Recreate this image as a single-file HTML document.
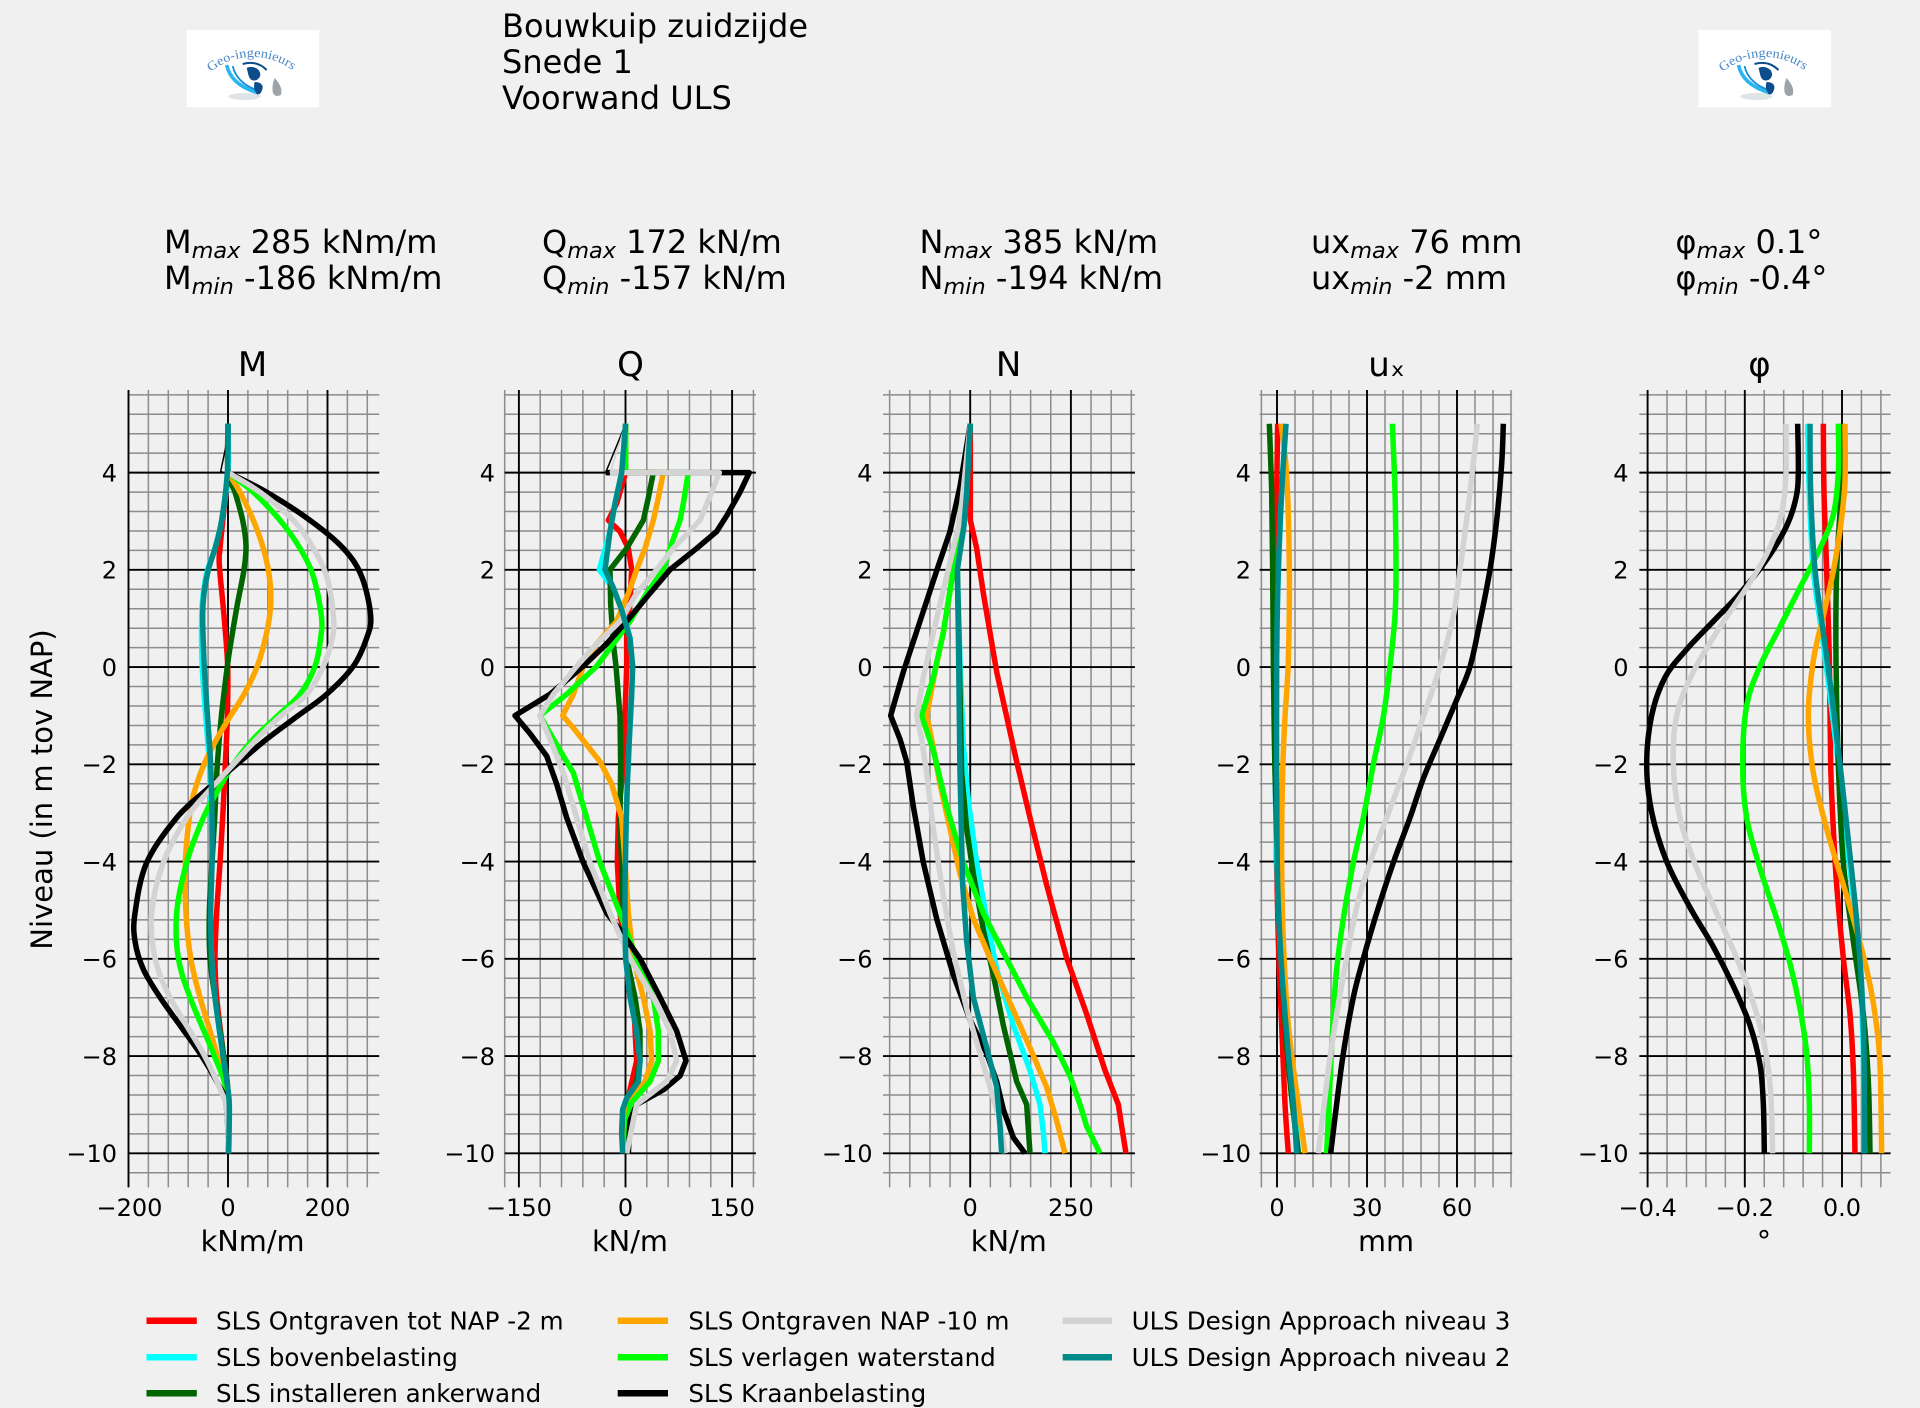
<!DOCTYPE html>
<html><head><meta charset="utf-8">
<style>
html,body{margin:0;padding:0;background:#f0f0f0;}
svg{display:block;}
text{font-family:"DejaVu Sans","Liberation Sans",sans-serif;fill:#000;}
.g path,.g line{vector-effect:non-scaling-stroke;}
.c polyline,.c path{vector-effect:non-scaling-stroke;fill:none;stroke-width:5.5;stroke-linejoin:round;}
.c polyline.t{stroke-width:1.5;}
.mn{stroke:#8c8c8c;stroke-width:1.5;fill:none;}
.mj{stroke:#000;stroke-width:1.9;fill:none;}
.tk{font-size:24px;}
.yt{font-size:24px;text-anchor:end;}
.xl{font-size:28.8px;text-anchor:middle;}
.st{font-size:34px;text-anchor:middle;}
.hd{font-size:32px;}
.lg{font-size:24.6px;}
</style></head>
<body>
<svg width="1920" height="1408" viewBox="0 0 1920 1408" xmlns="http://www.w3.org/2000/svg">
<rect width="1920" height="1408" fill="#f0f0f0"/>

<defs>
<g id="logo">
 <rect width="132.6" height="77.3" fill="#ffffff"/>
 <path id="arcL" d="M 24 42 A 66 66 0 0 1 108 42" fill="none"/>
 <text font-size="13" style="font-family:'Liberation Serif',serif;fill:#4a86c5"><textPath href="#arcL" textLength="88" lengthAdjust="spacingAndGlyphs">Geo-ingenieurs</textPath></text>
 <ellipse cx="58" cy="66.5" rx="16" ry="3.6" fill="#dfe4e6"/>
 <path d="M 40 35 Q 44 55 72 63" stroke="#29b6f0" stroke-width="3.6" fill="none"/>
 <path d="M 46 36 Q 50 53 70 60" stroke="#1a8fd8" stroke-width="1.8" fill="none"/>
 <path d="M 56 34 Q 70 30 80 40" stroke="#0d4d8c" stroke-width="2" fill="none"/>
 <path d="M 60 38 Q 66 35 72 40 Q 76 46 70 50 Q 64 52 62 46 Z" fill="#0d4d8c"/>
 <path d="M 68 52 Q 76 52 76 58 Q 74 66 70 64 Q 66 58 68 52 Z" fill="#0d4d8c"/>
 <path d="M 88 48 Q 97 58 94 65 Q 88 68 86 62 Q 85 55 88 48 Z" fill="#9ea3a8"/>
</g>
</defs>
<use href="#logo" x="186.7" y="30"/>
<use href="#logo" x="1698.5" y="30"/>

<text class="hd" x="502" y="37">Bouwkuip zuidzijde</text>
<text class="hd" x="502" y="73">Snede 1</text>
<text class="hd" x="502" y="109">Voorwand ULS</text>

<g class="hd">
<text class="hd" x="164" y="253">M<tspan font-style="italic" font-size="22.4" dy="5">max</tspan><tspan dy="-5"> 285 kNm/m</tspan></text>
<text class="hd" x="164" y="289">M<tspan font-style="italic" font-size="22.4" dy="5">min</tspan><tspan dy="-5"> -186 kNm/m</tspan></text>
<text class="hd" x="542" y="253">Q<tspan font-style="italic" font-size="22.4" dy="5">max</tspan><tspan dy="-5"> 172 kN/m</tspan></text>
<text class="hd" x="542" y="289">Q<tspan font-style="italic" font-size="22.4" dy="5">min</tspan><tspan dy="-5"> -157 kN/m</tspan></text>
<text class="hd" x="919.5" y="253">N<tspan font-style="italic" font-size="22.4" dy="5">max</tspan><tspan dy="-5"> 385 kN/m</tspan></text>
<text class="hd" x="919.5" y="289">N<tspan font-style="italic" font-size="22.4" dy="5">min</tspan><tspan dy="-5"> -194 kN/m</tspan></text>
<text class="hd" x="1311" y="253">ux<tspan font-style="italic" font-size="22.4" dy="5">max</tspan><tspan dy="-5"> 76 mm</tspan></text>
<text class="hd" x="1311" y="289">ux<tspan font-style="italic" font-size="22.4" dy="5">min</tspan><tspan dy="-5"> -2 mm</tspan></text>
<text class="hd" x="1675.4" y="253">φ<tspan font-style="italic" font-size="22.4" dy="5">max</tspan><tspan dy="-5"> 0.1°</tspan></text>
<text class="hd" x="1675.4" y="289">φ<tspan font-style="italic" font-size="22.4" dy="5">min</tspan><tspan dy="-5"> -0.4°</tspan></text>
</g>

<text class="st" x="252.5" y="376">M</text>
<text class="st" x="630.5" y="376">Q</text>
<text class="st" x="1008.6" y="376">N</text>
<text class="st" x="1386.6" y="376">uₓ</text>
<text class="st" x="1759.5" y="376">φ</text>

<text transform="translate(52,789.5) rotate(-90)" font-size="29" text-anchor="middle">Niveau (in m tov NAP)</text>

<!-- M grid -->
<g class="g" transform="matrix(0.4975,0,0,-48.62,228,667.1)">
 <path class="mn" d="M-202 -10.4H304M-202 -9.6H304M-202 -9.2H304M-202 -8.8H304M-202 -8.4H304M-202 -7.6H304M-202 -7.2H304M-202 -6.8H304M-202 -6.4H304M-202 -5.6H304M-202 -5.2H304M-202 -4.8H304M-202 -4.4H304M-202 -3.6H304M-202 -3.2H304M-202 -2.8H304M-202 -2.4H304M-202 -1.6H304M-202 -1.2H304M-202 -0.8H304M-202 -0.4H304M-202 0.4H304M-202 0.8H304M-202 1.2H304M-202 1.6H304M-202 2.4H304M-202 2.8H304M-202 3.2H304M-202 3.6H304M-202 4.4H304M-202 4.8H304M-202 5.2H304M-202 5.6H304"/>
 <path class="mn" d="M-160 -10.7V5.7M-120 -10.7V5.7M-80 -10.7V5.7M-40 -10.7V5.7M40 -10.7V5.7M80 -10.7V5.7M120 -10.7V5.7M160 -10.7V5.7M240 -10.7V5.7M280 -10.7V5.7"/>
 <path class="mj" d="M-202 -10H304M-202 -8H304M-202 -6H304M-202 -4H304M-202 -2H304M-202 0H304M-202 2H304M-202 4H304M-200 -10.7V5.7M0 -10.7V5.7M200 -10.7V5.7"/>
</g>
<!-- Q grid -->
<g class="g" transform="matrix(0.7107,0,0,-48.62,625.5,667.1)">
 <path class="mn" d="M-170 -10.4H183.5M-170 -9.6H183.5M-170 -9.2H183.5M-170 -8.8H183.5M-170 -8.4H183.5M-170 -7.6H183.5M-170 -7.2H183.5M-170 -6.8H183.5M-170 -6.4H183.5M-170 -5.6H183.5M-170 -5.2H183.5M-170 -4.8H183.5M-170 -4.4H183.5M-170 -3.6H183.5M-170 -3.2H183.5M-170 -2.8H183.5M-170 -2.4H183.5M-170 -1.6H183.5M-170 -1.2H183.5M-170 -0.8H183.5M-170 -0.4H183.5M-170 0.4H183.5M-170 0.8H183.5M-170 1.2H183.5M-170 1.6H183.5M-170 2.4H183.5M-170 2.8H183.5M-170 3.2H183.5M-170 3.6H183.5M-170 4.4H183.5M-170 4.8H183.5M-170 5.2H183.5M-170 5.6H183.5"/>
 <path class="mn" d="M-170 -10.7V5.7M-120 -10.7V5.7M-90 -10.7V5.7M-60 -10.7V5.7M-30 -10.7V5.7M30 -10.7V5.7M60 -10.7V5.7M90 -10.7V5.7M120 -10.7V5.7M180 -10.7V5.7"/>
 <path class="mj" d="M-170 -10H183.5M-170 -8H183.5M-170 -6H183.5M-170 -4H183.5M-170 -2H183.5M-170 0H183.5M-170 2H183.5M-170 4H183.5M-150 -10.7V5.7M0 -10.7V5.7M150 -10.7V5.7"/>
</g>
<!-- N grid -->
<g class="g" transform="matrix(0.4028,0,0,-48.62,970.2,667.1)">
 <path class="mn" d="M-216.5 -10.4H409M-216.5 -9.6H409M-216.5 -9.2H409M-216.5 -8.8H409M-216.5 -8.4H409M-216.5 -7.6H409M-216.5 -7.2H409M-216.5 -6.8H409M-216.5 -6.4H409M-216.5 -5.6H409M-216.5 -5.2H409M-216.5 -4.8H409M-216.5 -4.4H409M-216.5 -3.6H409M-216.5 -3.2H409M-216.5 -2.8H409M-216.5 -2.4H409M-216.5 -1.6H409M-216.5 -1.2H409M-216.5 -0.8H409M-216.5 -0.4H409M-216.5 0.4H409M-216.5 0.8H409M-216.5 1.2H409M-216.5 1.6H409M-216.5 2.4H409M-216.5 2.8H409M-216.5 3.2H409M-216.5 3.6H409M-216.5 4.4H409M-216.5 4.8H409M-216.5 5.2H409M-216.5 5.6H409"/>
 <path class="mn" d="M-200 -10.7V5.7M-150 -10.7V5.7M-100 -10.7V5.7M-50 -10.7V5.7M50 -10.7V5.7M100 -10.7V5.7M150 -10.7V5.7M200 -10.7V5.7M300 -10.7V5.7M350 -10.7V5.7M400 -10.7V5.7"/>
 <path class="mj" d="M-216.5 -10H409M-216.5 -8H409M-216.5 -6H409M-216.5 -4H409M-216.5 -2H409M-216.5 0H409M-216.5 2H409M-216.5 4H409M0 -10.7V5.7M250 -10.7V5.7"/>
</g>
<!-- ux grid -->
<g class="g" transform="matrix(3,0,0,-48.62,1277,667.1)">
 <path class="mn" d="M-5.8 -10.4H78.4M-5.8 -9.6H78.4M-5.8 -9.2H78.4M-5.8 -8.8H78.4M-5.8 -8.4H78.4M-5.8 -7.6H78.4M-5.8 -7.2H78.4M-5.8 -6.8H78.4M-5.8 -6.4H78.4M-5.8 -5.6H78.4M-5.8 -5.2H78.4M-5.8 -4.8H78.4M-5.8 -4.4H78.4M-5.8 -3.6H78.4M-5.8 -3.2H78.4M-5.8 -2.8H78.4M-5.8 -2.4H78.4M-5.8 -1.6H78.4M-5.8 -1.2H78.4M-5.8 -0.8H78.4M-5.8 -0.4H78.4M-5.8 0.4H78.4M-5.8 0.8H78.4M-5.8 1.2H78.4M-5.8 1.6H78.4M-5.8 2.4H78.4M-5.8 2.8H78.4M-5.8 3.2H78.4M-5.8 3.6H78.4M-5.8 4.4H78.4M-5.8 4.8H78.4M-5.8 5.2H78.4M-5.8 5.6H78.4"/>
 <path class="mn" d="M-5.2 -10.7V5.7M6 -10.7V5.7M12 -10.7V5.7M18 -10.7V5.7M24 -10.7V5.7M36 -10.7V5.7M42 -10.7V5.7M48 -10.7V5.7M54 -10.7V5.7M66 -10.7V5.7M72 -10.7V5.7M78 -10.7V5.7"/>
 <path class="mj" d="M-5.8 -10H78.4M-5.8 -8H78.4M-5.8 -6H78.4M-5.8 -4H78.4M-5.8 -2H78.4M-5.8 0H78.4M-5.8 2H78.4M-5.8 4H78.4M0 -10.7V5.7M30 -10.7V5.7M60 -10.7V5.7"/>
</g>
<!-- phi grid -->
<g class="g" transform="matrix(486,0,0,-48.62,1842,667.1)">
 <path class="mn" d="M-0.417 -10.4H0.1M-0.417 -9.6H0.1M-0.417 -9.2H0.1M-0.417 -8.8H0.1M-0.417 -8.4H0.1M-0.417 -7.6H0.1M-0.417 -7.2H0.1M-0.417 -6.8H0.1M-0.417 -6.4H0.1M-0.417 -5.6H0.1M-0.417 -5.2H0.1M-0.417 -4.8H0.1M-0.417 -4.4H0.1M-0.417 -3.6H0.1M-0.417 -3.2H0.1M-0.417 -2.8H0.1M-0.417 -2.4H0.1M-0.417 -1.6H0.1M-0.417 -1.2H0.1M-0.417 -0.8H0.1M-0.417 -0.4H0.1M-0.417 0.4H0.1M-0.417 0.8H0.1M-0.417 1.2H0.1M-0.417 1.6H0.1M-0.417 2.4H0.1M-0.417 2.8H0.1M-0.417 3.2H0.1M-0.417 3.6H0.1M-0.417 4.4H0.1M-0.417 4.8H0.1M-0.417 5.2H0.1M-0.417 5.6H0.1"/>
 <path class="mn" d="M-0.36 -10.7V5.7M-0.32 -10.7V5.7M-0.28 -10.7V5.7M-0.24 -10.7V5.7M-0.16 -10.7V5.7M-0.12 -10.7V5.7M-0.08 -10.7V5.7M-0.04 -10.7V5.7M0.04 -10.7V5.7M0.08 -10.7V5.7"/>
 <path class="mj" d="M-0.417 -10H0.1M-0.417 -8H0.1M-0.417 -6H0.1M-0.417 -4H0.1M-0.417 -2H0.1M-0.417 0H0.1M-0.417 2H0.1M-0.417 4H0.1M-0.4 -10.7V5.7M-0.2 -10.7V5.7M0 -10.7V5.7"/>
</g>

<g class="yt">
 <text class="yt" x="117" y="481.3">4</text><text class="yt" x="117" y="578.6">2</text><text class="yt" x="117" y="675.8">0</text><text class="yt" x="117" y="773">−2</text><text class="yt" x="117" y="870.3">−4</text><text class="yt" x="117" y="967.5">−6</text><text class="yt" x="117" y="1064.8">−8</text><text class="yt" x="117" y="1162">−10</text>
 <text class="yt" x="495" y="481.3">4</text><text class="yt" x="495" y="578.6">2</text><text class="yt" x="495" y="675.8">0</text><text class="yt" x="495" y="773">−2</text><text class="yt" x="495" y="870.3">−4</text><text class="yt" x="495" y="967.5">−6</text><text class="yt" x="495" y="1064.8">−8</text><text class="yt" x="495" y="1162">−10</text>
 <text class="yt" x="872.5" y="481.3">4</text><text class="yt" x="872.5" y="578.6">2</text><text class="yt" x="872.5" y="675.8">0</text><text class="yt" x="872.5" y="773">−2</text><text class="yt" x="872.5" y="870.3">−4</text><text class="yt" x="872.5" y="967.5">−6</text><text class="yt" x="872.5" y="1064.8">−8</text><text class="yt" x="872.5" y="1162">−10</text>
 <text class="yt" x="1251" y="481.3">4</text><text class="yt" x="1251" y="578.6">2</text><text class="yt" x="1251" y="675.8">0</text><text class="yt" x="1251" y="773">−2</text><text class="yt" x="1251" y="870.3">−4</text><text class="yt" x="1251" y="967.5">−6</text><text class="yt" x="1251" y="1064.8">−8</text><text class="yt" x="1251" y="1162">−10</text>
 <text class="yt" x="1628.5" y="481.3">4</text><text class="yt" x="1628.5" y="578.6">2</text><text class="yt" x="1628.5" y="675.8">0</text><text class="yt" x="1628.5" y="773">−2</text><text class="yt" x="1628.5" y="870.3">−4</text><text class="yt" x="1628.5" y="967.5">−6</text><text class="yt" x="1628.5" y="1064.8">−8</text><text class="yt" x="1628.5" y="1162">−10</text>
</g>

<g class="tk" text-anchor="middle">
 <text class="tk" text-anchor="middle" x="129.5" y="1216">−200</text><text class="tk" text-anchor="middle" x="228" y="1216">0</text><text class="tk" text-anchor="middle" x="327.5" y="1216">200</text>
 <text class="tk" text-anchor="middle" x="519" y="1216">−150</text><text class="tk" text-anchor="middle" x="625.5" y="1216">0</text><text class="tk" text-anchor="middle" x="732" y="1216">150</text>
 <text class="tk" text-anchor="middle" x="970.2" y="1216">0</text><text class="tk" text-anchor="middle" x="1070.9" y="1216">250</text>
 <text class="tk" text-anchor="middle" x="1277" y="1216">0</text><text class="tk" text-anchor="middle" x="1367" y="1216">30</text><text class="tk" text-anchor="middle" x="1457" y="1216">60</text>
 <text class="tk" text-anchor="middle" x="1647.6" y="1216">−0.4</text><text class="tk" text-anchor="middle" x="1744.8" y="1216">−0.2</text><text class="tk" text-anchor="middle" x="1842" y="1216">0.0</text>
</g>

<text class="xl" x="252.6" y="1251">kNm/m</text>
<text class="xl" x="630" y="1251">kN/m</text>
<text class="xl" x="1008.8" y="1251">kN/m</text>
<text class="xl" x="1386" y="1251">mm</text>
<text class="xl" x="1764" y="1251">°</text>

<!-- M curves -->
<g class="c" transform="matrix(0.333333,0,0,0.56117,0,380)">
 <polyline class="s" stroke="#ff0000" points="684,78 684,165 672,230 660,300 658,330 672,420 683,510 682,600 676,685 668,780 660,860 650,950 645,1030 650,1100 670,1200 684,1270 686,1378"/>
 <polyline class="s" stroke="#00ffff" points="684,78 684,165 665,250 645,300 622,340 610,380 605,420 606,500 612,560 620,620 628,685 634,780 636,860 632,950 635,1030 645,1100 668,1200 685,1270 688,1300 686,1378"/>
 <polyline class="s" stroke="#006400" points="684,78 684,165 705,200 728,250 738,295 732,338 712,400 692,470 682,510 664,600 652,685 644,780 636,860 628,950 630,1030 645,1100 670,1200 684,1270 686,1378"/>
 <polyline class="s" stroke="#ffa500" points="684,165 720,200 760,250 790,300 808,350 812,400 800,450 772,510 732,560 690,600 650,640 612,685 585,730 570,770 556,860 558,950 572,1030 600,1100 650,1200 680,1270 686,1378"/>
 <polyline class="s" stroke="#00ff00" points="684,165 760,200 840,250 900,300 940,350 964,420 962,460 945,510 900,560 830,600 760,640 700,685 655,730 610,780 560,860 530,950 535,1030 570,1100 640,1200 680,1270 686,1378"/>
 <polyline class="s" stroke="#000000" points="684,165 800,200 930,250 1030,300 1085,350 1112,420 1100,460 1060,510 980,560 890,600 800,640 710,685 620,730 530,780 440,860 405,950 405,1000 430,1050 480,1100 540,1150 600,1200 650,1250 678,1290 686,1378"/>
 <polyline class="t" stroke="#000000" points="684,100 662,163 684,168"/>
 <polyline class="s" stroke="#d3d3d3" points="684,165 780,200 880,250 940,300 980,350 1000,420 997,460 970,510 920,560 840,600 770,640 700,685 630,730 560,780 490,860 455,950 465,1030 510,1100 610,1200 665,1270 680,1300 686,1378"/>
 <polyline class="s" stroke="#008b8b" points="684,78 682,165 665,250 645,300 625,338 612,380 608,420 612,500 618,560 625,620 632,685 636,780 636,860 632,950 635,1030 645,1100 668,1200 685,1270 688,1300 686,1378"/>
</g>
<!-- Q curves -->
<g class="c" transform="matrix(0.333333,0,0,0.56117,440,380)">
 <polyline stroke="#ff0000" points="557,78 557,165 530,220 505,250 540,270 565,300 575,338 570,400 560,430 560,510 555,598 550,685 535,780 532,860 540,950 560,1031 580,1100 590,1213 560,1291 548,1378"/>
 <polyline stroke="#00ffff" points="557,78 545,165 525,220 510,270 478,338 505,360 525,380 548,410 570,460 578,510 575,560 568,640 562,720 558,800 555,900 555,960 557,1031 570,1100 590,1160 600,1213 595,1250 560,1280 548,1300 545,1340 548,1378"/>
 <polyline stroke="#006400" points="557,78 557,165 640,165 625,210 610,250 560,300 510,338 512,400 520,470 528,510 540,598 542,685 540,780 545,860 550,950 560,1031 585,1100 600,1160 600,1213 590,1250 560,1291 548,1378"/>
 <polyline stroke="#ffa500" points="557,78 557,165 670,165 655,210 640,250 615,300 590,338 565,380 530,430 470,470 430,510 400,560 368,598 400,620 480,680 515,720 545,780 555,860 565,950 580,1031 610,1100 630,1160 635,1213 615,1250 565,1291 560,1378"/>
 <polyline stroke="#00ff00" points="557,78 557,165 745,165 730,220 720,250 690,300 670,338 620,380 570,430 520,470 470,510 380,560 300,598 340,640 400,700 440,780 480,860 540,950 590,1031 640,1100 655,1160 655,1213 630,1250 570,1291 557,1378"/>
 <polyline class="t" stroke="#000000" points="557,78 497,165"/>
 <polyline stroke="#000000" points="497,165 928,165 900,200 862,240 830,270 770,300 690,338 630,380 560,430 500,470 430,510 330,560 225,598 270,630 320,670 350,720 380,780 430,860 500,950 540,980 600,1031 660,1100 710,1160 738,1213 720,1240 670,1265 590,1291 570,1320 565,1378"/>
 <polyline class="t" stroke="#d3d3d3" points="557,78 510,165"/>
 <polyline stroke="#d3d3d3" points="510,165 838,165 815,200 780,250 700,300 650,338 590,380 540,430 470,470 410,510 340,560 300,598 330,640 370,700 410,780 450,860 510,950 570,1031 640,1100 690,1160 710,1213 680,1250 590,1291 560,1378"/>
 <polyline stroke="#008b8b" points="557,78 545,165 525,220 510,270 495,338 520,370 545,410 570,460 578,510 575,560 568,640 562,720 558,800 555,900 555,960 557,1031 570,1100 590,1160 600,1213 595,1250 560,1280 548,1300 545,1340 548,1378"/>
</g>
<!-- N curves -->
<g class="c" transform="matrix(0.333333,0,0,0.56117,820,380)">
 <polyline stroke="#ff0000" points="451,78 451,250 470,300 490,380 510,450 530,520 560,600 590,680 630,780 680,900 740,1030 800,1130 855,1230 895,1291 905,1330 918,1378"/>
 <polyline stroke="#00ffff" points="451,78 440,200 412,338 420,500 430,650 445,750 470,860 500,960 530,1050 580,1150 630,1230 660,1291 670,1340 675,1378"/>
 <polyline stroke="#006400" points="451,78 440,200 412,338 418,500 425,700 440,800 460,880 490,980 520,1060 550,1150 590,1250 620,1291 630,1378"/>
 <polyline stroke="#ffa500" points="451,78 430,200 400,338 370,450 345,520 320,598 335,640 360,720 390,800 420,880 460,960 510,1030 570,1110 630,1190 680,1260 710,1320 735,1378"/>
 <polyline stroke="#00ff00" points="451,78 430,200 400,338 370,450 340,530 305,598 340,660 380,760 430,860 490,950 550,1020 620,1100 700,1180 750,1240 780,1291 800,1330 840,1378"/>
 <polyline stroke="#000000" points="451,78 420,190 390,270 350,340 300,430 250,520 212,598 240,640 260,680 280,760 310,860 350,960 400,1060 450,1140 500,1200 530,1250 550,1300 580,1350 615,1378"/>
 <polyline stroke="#d3d3d3" points="451,78 420,250 380,350 340,450 310,530 290,598 305,640 320,700 340,800 370,920 400,1020 440,1120 480,1200 510,1260 540,1320 555,1378"/>
 <polyline stroke="#008b8b" points="451,78 440,200 432,260 412,338 415,450 418,600 420,700 424,800 428,900 440,1000 460,1100 500,1190 530,1260 540,1330 545,1378"/>
</g>
<!-- ux curves -->
<g class="c" transform="matrix(0.333333,0,0,0.56117,1200,380)">
 <polyline class="s" stroke="#ff0000" points="233,78 230,200 226,400 225,600 228,800 235,1000 245,1150 255,1290 265,1378"/>
 <polyline class="s" stroke="#00ffff" points="258,78 245,200 232,400 226,600 228,800 240,1000 260,1150 280,1270 295,1378"/>
 <polyline class="s" stroke="#006400" points="208,78 215,200 218,338 220,500 225,700 235,900 250,1100 270,1250 295,1378"/>
 <polyline class="s" stroke="#ffa500" points="243,78 260,170 268,338 265,500 255,600 248,700 245,850 250,1000 265,1150 290,1270 315,1378"/>
 <polyline class="s" stroke="#00ff00" points="577,78 585,200 588,338 585,420 570,510 550,600 520,685 490,780 460,860 430,960 410,1050 400,1130 390,1250 380,1378"/>
 <polyline class="s" stroke="#000000" points="910,78 905,150 890,250 870,338 840,430 810,511 770,570 720,640 670,710 630,780 580,860 530,950 490,1031 460,1100 430,1200 410,1290 392,1378"/>
 <polyline class="s" stroke="#d3d3d3" points="832,78 810,200 780,338 760,420 720,511 670,600 620,685 560,780 510,860 470,940 440,1030 410,1130 385,1230 355,1378"/>
 <polyline class="s" stroke="#008b8b" points="258,78 245,200 235,338 230,500 230,700 233,900 245,1050 265,1200 280,1290 290,1378"/>
</g>
<!-- phi curves -->
<g class="c" transform="matrix(0.333333,0,0,0.56117,1580,380)">
 <polyline class="s" stroke="#ff0000" points="730,78 732,200 740,340 748,500 752,685 760,800 770,900 790,1030 810,1130 820,1230 825,1378"/>
 <polyline class="s" stroke="#00ffff" points="683,78 688,200 700,338 725,450 750,560 775,685 800,820 825,950 842,1080 850,1200 852,1378"/>
 <polyline class="s" stroke="#006400" points="785,78 783,200 770,340 768,500 775,685 790,860 820,1000 850,1130 865,1250 870,1378"/>
 <polyline class="s" stroke="#ffa500" points="795,78 795,180 782,260 760,340 730,420 700,500 685,598 700,700 740,800 780,880 820,960 860,1050 885,1130 900,1220 905,1378"/>
 <polyline class="s" stroke="#00ff00" points="775,78 775,165 760,240 720,300 660,370 600,440 540,510 500,580 488,685 500,780 540,870 590,960 630,1040 660,1120 680,1200 688,1290 688,1378"/>
 <polyline class="s" stroke="#000000" points="653,78 655,165 648,210 620,260 560,320 480,380 400,430 320,480 255,530 215,598 200,685 215,770 260,858 330,940 400,1010 460,1080 510,1150 540,1220 550,1290 553,1378"/>
 <polyline class="s" stroke="#d3d3d3" points="618,78 617,180 600,250 560,310 500,370 420,440 340,520 290,598 280,685 300,780 350,870 410,950 470,1030 520,1110 555,1190 572,1270 578,1378"/>
 <polyline class="s" stroke="#008b8b" points="690,78 692,200 705,338 730,450 755,560 780,685 805,820 828,950 845,1080 852,1200 853,1378"/>
</g>

<g stroke-width="6.5">
 <line x1="146.5" y1="1320.7" x2="196.8" y2="1320.7" stroke="#ff0000"/>
 <line x1="146.5" y1="1357.3" x2="196.8" y2="1357.3" stroke="#00ffff"/>
 <line x1="146.5" y1="1393.3" x2="196.8" y2="1393.3" stroke="#006400"/>
 <line x1="617.7" y1="1320.7" x2="668" y2="1320.7" stroke="#ffa500"/>
 <line x1="617.7" y1="1357.3" x2="668" y2="1357.3" stroke="#00ff00"/>
 <line x1="617.7" y1="1393.3" x2="668" y2="1393.3" stroke="#000000"/>
 <line x1="1062.7" y1="1320.7" x2="1112" y2="1320.7" stroke="#d3d3d3"/>
 <line x1="1062.7" y1="1357.3" x2="1112" y2="1357.3" stroke="#008b8b"/>
</g>
<g class="lg">
 <text class="lg" x="216" y="1329.5">SLS Ontgraven tot NAP -2 m</text>
 <text class="lg" x="216" y="1366">SLS bovenbelasting</text>
 <text class="lg" x="216" y="1402">SLS installeren ankerwand</text>
 <text class="lg" x="688.4" y="1329.5">SLS Ontgraven NAP -10 m</text>
 <text class="lg" x="688.4" y="1366">SLS verlagen waterstand</text>
 <text class="lg" x="688.4" y="1402">SLS Kraanbelasting</text>
 <text class="lg" x="1131.6" y="1329.5">ULS Design Approach niveau 3</text>
 <text class="lg" x="1131.6" y="1366">ULS Design Approach niveau 2</text>
</g>
</svg>
<script>
(function(){
  var ns="http://www.w3.org/2000/svg";
  var pls=document.querySelectorAll("polyline.s");
  for(var i=0;i<pls.length;i++){
    var pl=pls[i];
    var raw=pl.getAttribute("points").trim().split(/\s+/);
    var p=[];
    for(var j=0;j<raw.length;j++){var xy=raw[j].split(",");p.push([+xy[0],+xy[1]]);}
    if(p.length<3)continue;
    var d="M"+p[0][0]+" "+p[0][1];
    for(var k=0;k<p.length-1;k++){
      var p0=p[k>0?k-1:0],p1=p[k],p2=p[k+1],p3=p[k+2<p.length?k+2:p.length-1];
      var c1x=p1[0]+(p2[0]-p0[0])/6,c1y=p1[1]+(p2[1]-p0[1])/6;
      var c2x=p2[0]-(p3[0]-p1[0])/6,c2y=p2[1]-(p3[1]-p1[1])/6;
      d+="C"+c1x.toFixed(2)+" "+c1y.toFixed(2)+" "+c2x.toFixed(2)+" "+c2y.toFixed(2)+" "+p2[0]+" "+p2[1];
    }
    var path=document.createElementNS(ns,"path");
    path.setAttribute("d",d);
    path.setAttribute("stroke",pl.getAttribute("stroke"));
    pl.parentNode.replaceChild(path,pl);
  }
})();
</script>
</body></html>
